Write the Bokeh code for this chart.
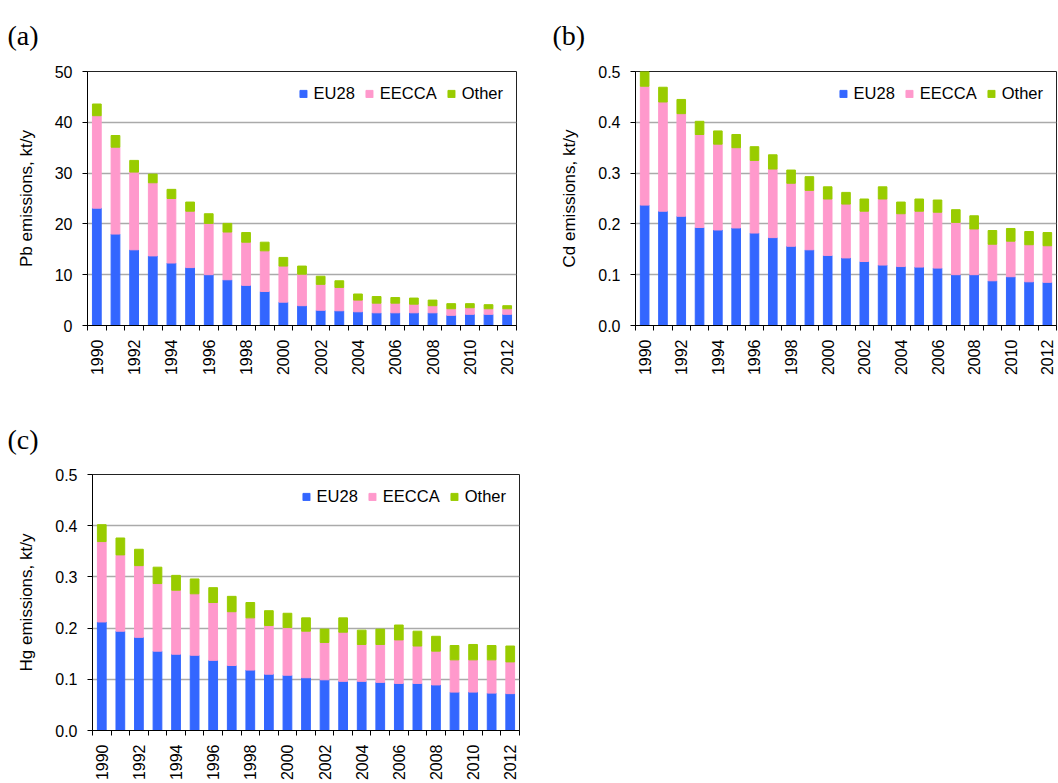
from bokeh.plotting import figure
from bokeh.models import ColumnDataSource, Range1d, FixedTicker, NumeralTickFormatter
from bokeh.layouts import column, row
from bokeh.embed import file_html
from bokeh.resources import INLINE
import math

years = list(range(1990, 2013))
tick_labels = ["1990", "1992", "1994", "1996", "1998", "2000", "2002",
               "2004", "2006", "2008", "2010", "2012"]
series = ["EU28", "EECCA", "Other"]
colors = ["#3366FF", "#FF99CC", "#99CC00"]

# Panel (a) Pb, kt/y
pb_eu28 = [23.1, 18.0, 14.9, 13.7, 12.3, 11.4, 10.0, 9.0, 7.9, 6.7, 4.6, 3.9,
           3.0, 2.9, 2.7, 2.5, 2.5, 2.5, 2.5, 2.0, 2.2, 2.2, 2.2]
pb_eecca = [18.2, 17.1, 15.3, 14.4, 12.7, 11.1, 10.1, 9.4, 8.5, 8.0, 7.1, 6.2,
            5.1, 4.6, 2.3, 1.9, 1.9, 1.7, 1.4, 1.3, 1.3, 1.1, 1.1]
pb_other = [2.3, 2.3, 2.3, 1.7, 1.8, 1.8, 1.9, 1.7, 1.9, 1.7, 1.7, 1.6,
            1.6, 1.3, 1.2, 1.3, 1.1, 1.2, 1.1, 1.0, 0.8, 0.8, 0.6]

# Panel (b) Cd, kt/y
cd_eu28 = [0.237, 0.225, 0.215, 0.193, 0.188, 0.192, 0.182, 0.173, 0.156, 0.149,
           0.138, 0.133, 0.126, 0.119, 0.116, 0.115, 0.113, 0.100, 0.100, 0.088,
           0.096, 0.086, 0.085]
cd_eecca = [0.234, 0.215, 0.202, 0.183, 0.169, 0.158, 0.143, 0.135, 0.124, 0.117,
            0.111, 0.106, 0.099, 0.130, 0.104, 0.110, 0.110, 0.103, 0.090, 0.072,
            0.070, 0.073, 0.072]
cd_other = [0.029, 0.029, 0.028, 0.026, 0.026, 0.026, 0.027, 0.028, 0.026, 0.027,
            0.024, 0.023, 0.024, 0.024, 0.023, 0.024, 0.024, 0.025, 0.026, 0.027,
            0.025, 0.026, 0.026]

# Panel (c) Hg, kt/y
hg_eu28 = [0.212, 0.194, 0.182, 0.155, 0.149, 0.147, 0.137, 0.127, 0.118, 0.110,
           0.108, 0.103, 0.099, 0.096, 0.096, 0.094, 0.092, 0.092, 0.089, 0.075,
           0.075, 0.073, 0.072]
hg_eecca = [0.157, 0.149, 0.140, 0.132, 0.125, 0.120, 0.113, 0.105, 0.102, 0.095,
            0.093, 0.091, 0.073, 0.096, 0.072, 0.074, 0.085, 0.073, 0.066, 0.063,
            0.063, 0.065, 0.062]
hg_other = [0.033, 0.033, 0.032, 0.032, 0.029, 0.029, 0.029, 0.030, 0.030, 0.029,
            0.028, 0.026, 0.026, 0.028, 0.028, 0.030, 0.029, 0.029, 0.029, 0.028,
            0.030, 0.028, 0.031]

SANS = "Liberation Sans"
SERIF = "Liberation Serif"


def make_panel(tag, ylabel, eu, ee, ot, ymax, ystep, fmt, width, height,
               bl, br, bt, bb, tag_x, tag_standoff):
    src = ColumnDataSource(dict(year=years, EU28=eu, EECCA=ee, Other=ot))
    p = figure(width=width, height=height, output_backend="svg",
               toolbar_location=None, x_range=Range1d(years[0] - 0.5, years[-1] + 0.5),
               y_range=Range1d(0, ymax), min_border_left=bl, min_border_right=br,
               min_border_top=bt, min_border_bottom=bb)
    p.vbar_stack(series, x="year", width=0.47, color=colors, source=src,
                 legend_label=series)

    p.title.text = tag
    p.title.text_font = SERIF
    p.title.text_font_size = "28px"
    p.title.text_font_style = "normal"
    p.title.text_color = "black"
    p.title.align = "left"
    p.title.vertical_align = "top"
    p.title.standoff = tag_standoff
    p.title.offset = tag_x - bl

    p.background_fill_color = "white"
    p.border_fill_color = "white"
    p.outline_line_color = "#222222"
    p.outline_line_width = 1

    # x axis: labels at every other year, ticks between bars
    xa = p.xaxis[0]
    label_pos = [int(t) for t in tick_labels]
    xa.ticker = FixedTicker(ticks=label_pos,
                            minor_ticks=[y - 0.5 for y in years] + [years[-1] + 0.5])
    xa.major_label_overrides = {int(t): t for t in tick_labels}
    xa.major_tick_line_color = None
    xa.major_tick_out = 5
    xa.major_tick_in = 0
    xa.minor_tick_line_color = "black"
    xa.minor_tick_out = 5
    xa.minor_tick_in = 0
    xa.major_label_orientation = math.pi / 2
    xa.major_label_standoff = 9
    xa.major_label_text_font = SANS
    xa.major_label_text_font_size = "16px"
    xa.major_label_text_color = "black"
    xa.axis_line_color = "black"

    ya = p.yaxis[0]
    ya.ticker = FixedTicker(ticks=[round(i * ystep, 3) for i in range(int(round(ymax / ystep)) + 1)],
                            minor_ticks=[])
    ya.formatter = NumeralTickFormatter(format=fmt)
    ya.major_tick_out = 5
    ya.major_tick_in = 0
    ya.major_tick_line_color = "black"
    ya.minor_tick_line_color = None
    ya.major_label_standoff = 10
    ya.major_label_text_font = SANS
    ya.major_label_text_font_size = "16px"
    ya.major_label_text_color = "black"
    ya.axis_line_color = "black"
    ya.axis_label = ylabel
    ya.axis_label_text_font = SANS
    ya.axis_label_text_font_size = "17px"
    ya.axis_label_text_font_style = "normal"
    ya.axis_label_text_color = "black"
    ya.axis_label_standoff = 16

    p.xgrid.grid_line_color = None
    p.ygrid.grid_line_color = "#aaaaaa"
    p.ygrid.grid_line_width = 1.5

    lg = p.legend[0]
    lg.location = "top_right"
    lg.orientation = "horizontal"
    lg.border_line_color = None
    lg.background_fill_alpha = 0
    lg.label_text_font = SANS
    lg.label_text_font_size = "16.5px"
    lg.label_text_color = "black"
    lg.glyph_width = 9
    lg.glyph_height = 9
    lg.label_standoff = 6
    lg.spacing = 10
    lg.padding = 0
    lg.margin = 13
    lg.label_height = 18
    return p


pa = make_panel("(a)", "Pb emissions, kt/y", pb_eu28, pb_eecca, pb_other,
                50, 10, "0", 526, 404, 87, 10, 71, 79, 7, 37)
pb = make_panel("(b)", "Cd emissions, kt/y", cd_eu28, cd_eecca, cd_other,
                0.5, 0.1, "0.0", 531, 404, 109, 1, 71, 79, 26, 37)
pc = make_panel("(c)", "Hg emissions, kt/y", hg_eu28, hg_eecca, hg_other,
                0.5, 0.1, "0.0", 524, 379, 92, 5, 70, 53, 7, 36)

layout = column(row(pa, pb), pc)
open("out.html", "w").write(file_html(layout, INLINE))
